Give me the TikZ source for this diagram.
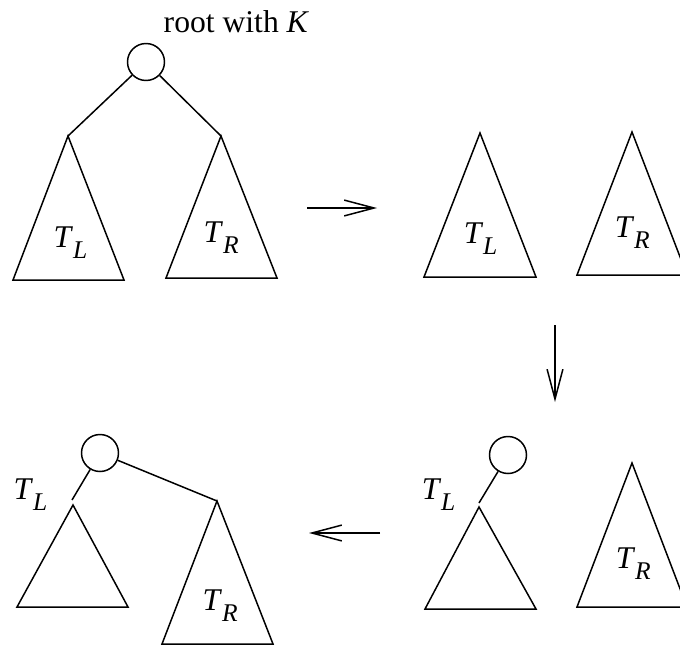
\documentclass[tikz,border=0pt]{standalone}
\usepackage{fontspec}
\setmainfont{Liberation Serif}
\usetikzlibrary{arrows.meta}
\newcommand{\tsub}[1]{\textit{T}\raisebox{-0.22cm}{\fontsize{14.5}{15}\selectfont\textit{#1}}}

\begin{document}
\begin{tikzpicture}[x=0.02cm,y=-0.02cm,line width=0.85pt,font=\fontsize{18}{22}\selectfont,
    key/.style={circle,draw,minimum size=0.74cm,inner sep=0pt},
    lab/.style={anchor=base west,inner sep=0pt},
    move/.style={-{Straight Barb[length=17pt,width=9pt]}}]
  \useasboundingbox (0,0) rectangle (680,646);
  % whole tree
  \node[key] (k1) at (146,62) {};
  \node[lab] (cap) at (163,32) {root with \textit{K}};
  \coordinate (l1) at (68,136);
  \coordinate (r1) at (221,136);
  \draw (k1) -- (l1);
  \draw (k1) -- (r1);
  \draw (l1) -- (13,280) -- (124,280) -- cycle;
  \draw (r1) -- (166,278) -- (277,278) -- cycle;
  \node[lab] (tl1) at (53,247) {\tsub{L}};
  \node[lab] (tr1) at (203,242) {\tsub{R}};
  % root removed
  \coordinate (l2) at (480,133);
  \coordinate (r2) at (632,132);
  \draw (l2) -- (424,277) -- (536,277) -- cycle;
  \draw (r2) -- (577,275) -- (687,275) -- cycle;
  \node[lab] (tl2) at (463,243) {\tsub{L}};
  \node[lab] (tr2) at (614,237) {\tsub{R}};
  % K inserted in T_L
  \node[key] (k3) at (508,455) {};
  \coordinate (s3) at (479,503);
  \coordinate (l3) at (479,507);
  \coordinate (r3) at (632,463);
  \draw (k3) -- (s3);
  \draw (l3) -- (425,609) -- (536,609) -- cycle;
  \draw (r3) -- (577,607) -- (687,607) -- cycle;
  \node[lab] (tl3) at (421,499) {\tsub{L}};
  \node[lab] (tr3) at (615,568) {\tsub{R}};
  % joined again
  \node[key] (k4) at (100,453) {};
  \coordinate (s4) at (72,500);
  \coordinate (l4) at (73,505);
  \coordinate (r4) at (217,501);
  \draw (k4) -- (s4);
  \draw (k4) -- (r4);
  \draw (l4) -- (17,607) -- (128,607) -- cycle;
  \draw (r4) -- (162,644) -- (273,644) -- cycle;
  \node[lab] (tl4) at (13,499) {\tsub{L}};
  \node[lab] (tr4) at (202,610) {\tsub{R}};
  % steps
  \coordinate (a1) at (307,208);
  \coordinate (a2) at (377,208);
  \coordinate (b1) at (555,325);
  \coordinate (b2) at (555,402);
  \coordinate (c1) at (380,533);
  \coordinate (c2) at (309,533);
  \draw[move] (a1) -- (a2);
  \draw[move] (b1) -- (b2);
  \draw[move] (c1) -- (c2);
\end{tikzpicture}
\end{document}
